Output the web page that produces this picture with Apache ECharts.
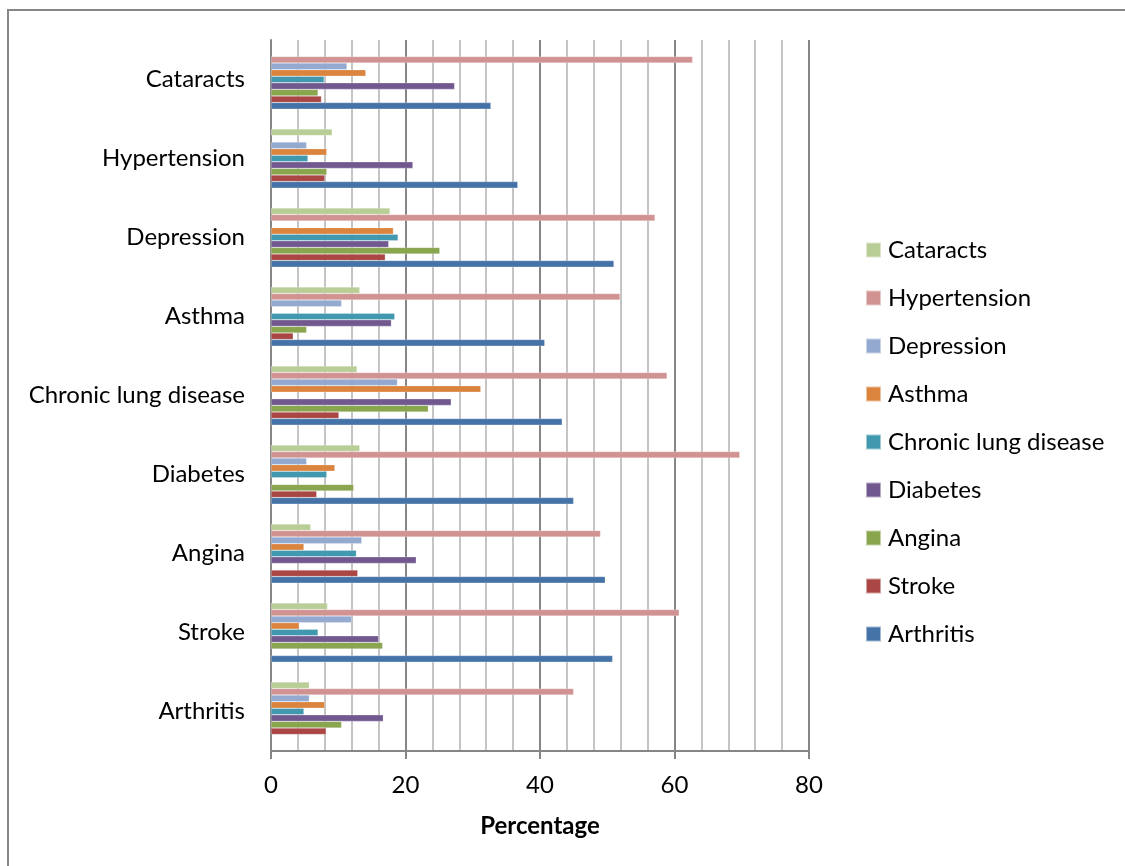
<!DOCTYPE html>
<html>
<head>
<meta charset="utf-8">
<script src="https://cdn.jsdelivr.net/npm/echarts@6/dist/echarts.min.js"></script>
<style>html,body{margin:0;padding:0;background:#fff}#c{width:1125px;height:866px}</style>
</head>
<body>
<div id="c"></div>
<script>
// Categories (bottom to top)
const categories = ['Arthritis','Stroke','Angina','Diabetes','Chronic lung disease','Asthma','Depression','Hypertension','Cataracts'];
// Series values, aligned with categories (null = not shown)
const arthritis    = [null, 50.8, 49.7, 45.0, 43.3, 40.7, 51.0, 36.7, 32.7];
const stroke       = [8.2, null, 12.9, 6.8, 10.1, 3.3, 17.0, 8.0, 7.5];
const angina       = [10.5, 16.6, null, 12.3, 23.4, 5.3, 25.1, 8.3, 7.0];
const diabetes     = [16.7, 16.0, 21.6, null, 26.8, 17.9, 17.5, 21.1, 27.3];
const chronicLung  = [4.9, 7.0, 12.7, 8.3, null, 18.4, 18.9, 5.5, 7.9];
const asthma       = [8.0, 4.2, 4.9, 9.5, 31.2, null, 18.2, 8.3, 14.1];
const depression   = [5.7, 12.0, 13.5, 5.3, 18.8, 10.5, null, 5.3, 11.3];
const hypertension = [45.0, 60.7, 49.0, 69.7, 58.9, 51.9, 57.1, null, 62.7];
const cataracts    = [5.7, 8.4, 5.9, 13.2, 12.8, 13.2, 17.7, 9.1, null];

// Series listed top-of-group first (ECharts places first series at top here)
const seriesNames = ['Cataracts','Hypertension','Depression','Asthma','Chronic lung disease','Diabetes','Angina','Stroke','Arthritis'];
const seriesData = [cataracts, hypertension, depression, asthma, chronicLung, diabetes, angina, stroke, arthritis];
const colors = ['#B9CD96','#D19392','#93A9CF','#DB843D','#4198AF','#71588F','#89A54E','#AA4643','#4572A7'];

const FONT = 'Lato, "Open Sans", sans-serif';
const FS = 24;
const chart = echarts.init(document.getElementById('c'), null, {renderer:'canvas'});
chart.setOption({
  animation: false,
  backgroundColor: '#fff',
  color: colors,
  textStyle: {fontFamily: FONT},
  graphic: [{
    type: 'rect', silent: true, z: -1,
    shape: {x: 8, y: 10, width: 1200, height: 1000},
    style: {fill: 'none', stroke: '#878787', lineWidth: 2}
  }],
  grid: {left: 271, right: 316, top: 40, bottom: 115, containLabel: false},
  legend: {
    orient: 'vertical', left: 860, top: 233,
    itemWidth: 15, itemHeight: 15, itemGap: 24,
    icon: 'rect',
    textStyle: {fontSize: FS, color: '#000', fontFamily: FONT, padding: [0,0,0,2]},
    data: seriesNames
  },
  xAxis: {
    type: 'value', min: 0, max: 80, interval: 20,
    name: 'Percentage', nameLocation: 'middle', nameGap: 63,
    nameTextStyle: {fontSize: FS, fontWeight: 'bold', color: '#000', fontFamily: FONT},
    axisLine: {show: true, lineStyle: {color: '#868686', width: 2}},
    axisTick: {show: true, length: 8, lineStyle: {color: '#868686', width: 2}},
    axisLabel: {fontSize: FS, color: '#000', margin: 22, fontFamily: FONT},
    splitLine: {show: true, lineStyle: {color: '#868686', width: 2}},
    minorTick: {show: true, splitNumber: 5, length: 0},
    minorSplitLine: {show: true, lineStyle: {color: '#c4c4c4', width: 2}}
  },
  yAxis: {
    type: 'category', data: categories,
    axisLine: {show: true, lineStyle: {color: '#868686', width: 2}},
    axisTick: {show: false},
    axisLabel: {fontSize: FS, color: '#000', margin: 26, fontFamily: FONT},
    splitLine: {show: false}
  },
  series: seriesNames.map((n, i) => ({
    name: n, type: 'bar', data: seriesData[i],
    barGap: '0%', barCategoryGap: '25%',
    itemStyle: {color: colors[i], borderColor: 'rgba(255,255,255,0.5)', borderWidth: 0.5}
  }))
});
</script>
</body>
</html>
